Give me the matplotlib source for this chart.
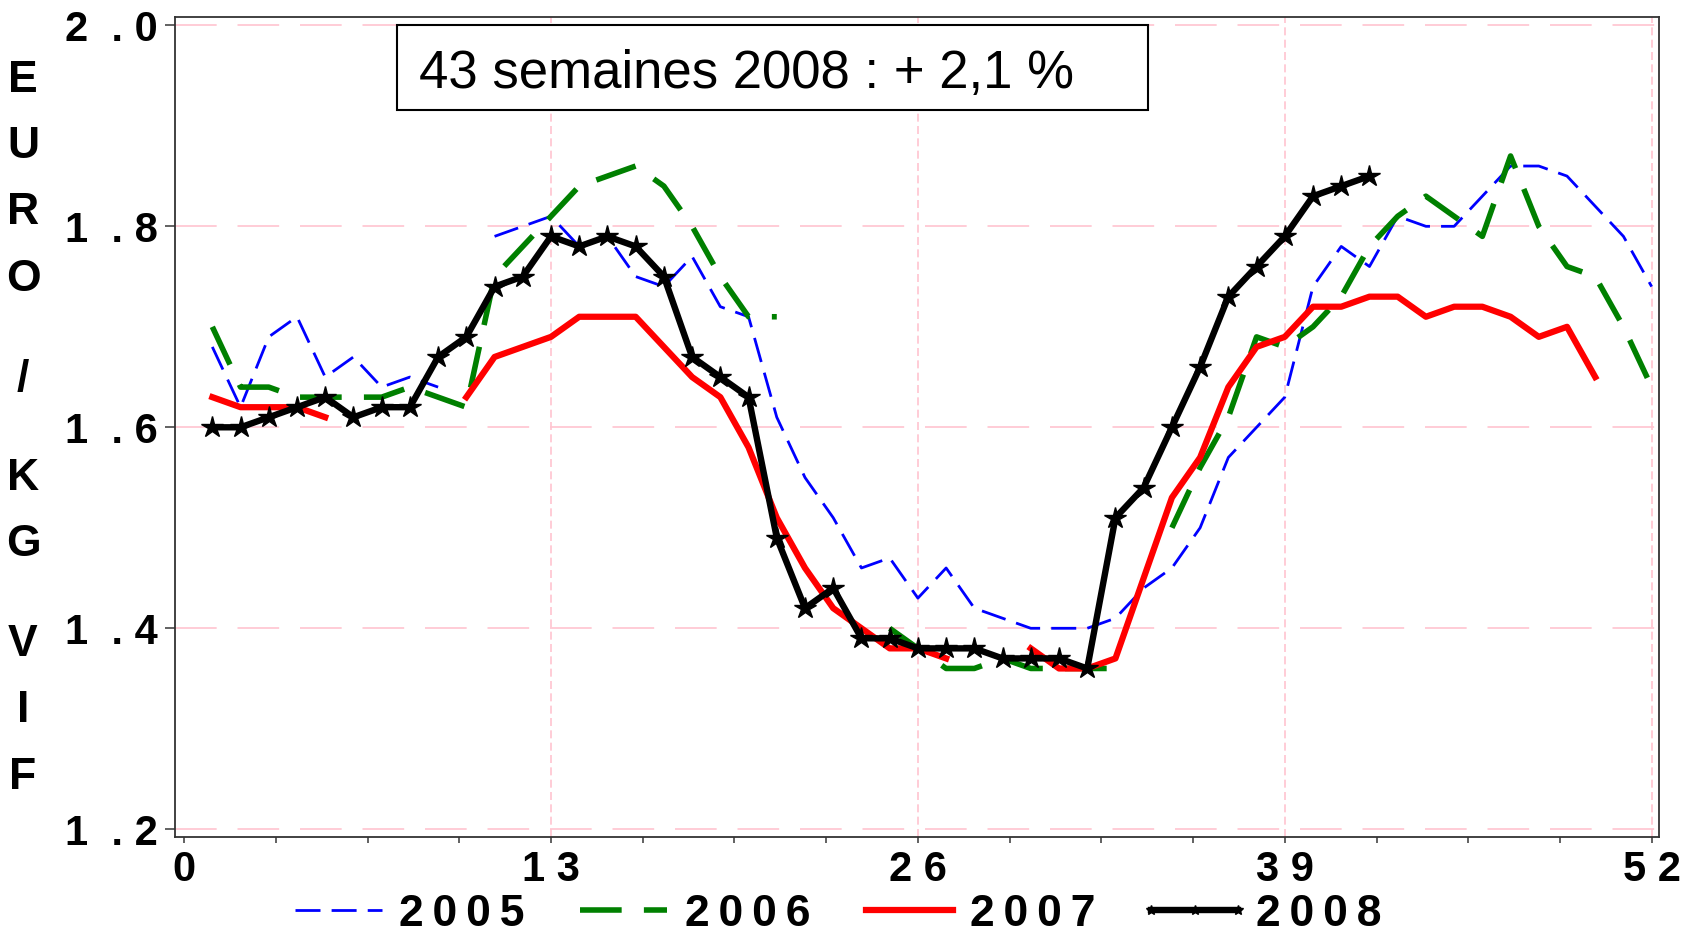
import matplotlib.pyplot as plt
import numpy as np
from matplotlib.patches import Rectangle

nan = np.nan

weeks = np.arange(1, 53)

prix_2005 = [1.68, 1.62, 1.69, 1.71, 1.65, 1.67, 1.64, 1.65, 1.64, nan,
             1.79, 1.80, 1.81, 1.78, 1.79, 1.75, 1.74, 1.77, 1.72, 1.71,
             1.61, 1.55, 1.51, 1.46, 1.47, 1.43, 1.46, 1.42, 1.41, 1.40,
             1.40, 1.40, 1.41, 1.44, 1.46, 1.50, 1.57, 1.60, 1.63, 1.74,
             1.78, 1.76, 1.81, 1.80, 1.80, 1.83, 1.86, 1.86, 1.85, 1.82,
             1.79, 1.74]

prix_2006 = [1.70, 1.64, 1.64, 1.63, 1.63, 1.63, 1.63, 1.64, 1.63, 1.62,
             1.75, 1.78, 1.81, 1.84, 1.85, 1.86, 1.84, 1.80, 1.75, 1.71,
             1.71, nan, nan, nan, 1.40, 1.38, 1.36, 1.36, 1.37, 1.36,
             1.36, 1.36, 1.36, nan, 1.50, 1.56, 1.61, 1.69, 1.68, 1.70,
             1.73, 1.78, 1.81, 1.83, 1.81, 1.79, 1.87, 1.80, 1.76, 1.75,
             1.70, 1.64]

prix_2007 = [1.63, 1.62, 1.62, 1.62, 1.61, nan, nan, nan, nan, 1.63,
             1.67, 1.68, 1.69, 1.71, 1.71, 1.71, 1.68, 1.65, 1.63, 1.58,
             1.51, 1.46, 1.42, 1.40, 1.38, 1.38, 1.37, nan, nan, 1.38,
             1.36, 1.36, 1.37, 1.45, 1.53, 1.57, 1.64, 1.68, 1.69, 1.72,
             1.72, 1.73, 1.73, 1.71, 1.72, 1.72, 1.71, 1.69, 1.70, 1.65,
             nan, nan]

prix_2008 = [1.60, 1.60, 1.61, 1.62, 1.63, 1.61, 1.62, 1.62, 1.67, 1.69,
             1.74, 1.75, 1.79, 1.78, 1.79, 1.78, 1.75, 1.67, 1.65, 1.63,
             1.49, 1.42, 1.44, 1.39, 1.39, 1.38, 1.38, 1.38, 1.37, 1.37,
             1.37, 1.36, 1.51, 1.54, 1.60, 1.66, 1.73, 1.76, 1.79, 1.83,
             1.84, 1.85]

x_ticks = [0, 13, 26, 39, 52]
x_labels = ["0", "1 3", "2 6", "3 9", "5 2"]
y_ticks = [1.2, 1.4, 1.6, 1.8, 2.0]
y_labels = ["1  . 2", "1  . 4", "1  . 6", "1  . 8", "2  . 0"]
legend_labels = ["2\u20090\u20090\u20095", "2\u20090\u20090\u20096",
                 "2\u20090\u20090\u20097", "2\u20090\u20090\u20098"]
titre = "43 semaines 2008 : + 2,1 %"
unite = "EURO / KG VIF"

W, H = 1683, 941
fig = plt.figure(figsize=(W / 100, H / 100), dpi=100)
ax = fig.add_axes([175.5 / W, 1 - 837.3 / H, (1659.3 - 175.5) / W, (837.3 - 17.5) / H])

grid_col = "#ffc4cf"
for v in y_ticks:
    ax.axhline(v, color=grid_col, lw=1.2, dashes=(25, 12.5), zorder=0)
for v in x_ticks[1:]:
    ax.axvline(v, color=grid_col, lw=1.2, dashes=(4.8, 2.6), zorder=0)

ax.plot(weeks, prix_2005, color="blue", lw=2.0, dashes=(9, 4), label=legend_labels[0])
ax.plot(weeks, prix_2006, color="green", lw=4.0, dashes=(7.5, 4), label=legend_labels[1])
ax.plot(weeks, prix_2007, color="red", lw=4.5, label=legend_labels[2])
ax.plot(weeks[:len(prix_2008)], prix_2008, color="black", lw=4.6, marker="*",
        ms=16, label=legend_labels[3])

ax.set_xlim(-0.305, 52.27)
ax.set_ylim(1.192, 2.0078)

bold = dict(family="Liberation Sans", weight="bold", size=30)
ax.set_xticks(x_ticks)
ax.set_xticklabels(x_labels, fontdict=bold)
ax.set_xticks(np.arange(0, 52.1, 3.25), minor=True)
ax.set_yticks(y_ticks)
ax.set_yticklabels(y_labels, fontdict=bold)
ax.tick_params(axis="x", which="both", direction="out", length=4, width=1.3,
               color="#555555", pad=5)
ax.tick_params(axis="y", direction="out", length=7, width=1.3, color="#555555", pad=6)
for s in ax.spines.values():
    s.set_linewidth(1.3)
    s.set_color("#333333")

# lettres de l'unite empilees verticalement
y = 80
for c in unite:
    if c == " ":
        y += 33
        continue
    fig.text(23 / W, 1 - y / H, c, ha="center", va="center",
             family="Liberation Sans", weight="bold", size=32)
    y += 66.5

fig.add_artist(Rectangle((397 / W, 1 - 110 / H), (1148 - 397) / W, 85 / H,
                         transform=fig.transFigure, facecolor="white",
                         edgecolor="black", lw=1.5))
fig.text(419 / W, 1 - 88 / H, titre, ha="left", va="baseline",
         family="Liberation Sans", size=38)

leg = fig.legend(loc="center", bbox_to_anchor=(0.494, 1 - 914 / H), ncol=4,
                 frameon=False, numpoints=3, handlelength=2.55, handletextpad=0.1,
                 columnspacing=0.95,
                 prop=dict(family=["Liberation Sans", "DejaVu Sans"], weight="bold", size=32))
leg.legend_handles[3].set_markersize(7)

fig.savefig("out.png", dpi=100, facecolor="white")
